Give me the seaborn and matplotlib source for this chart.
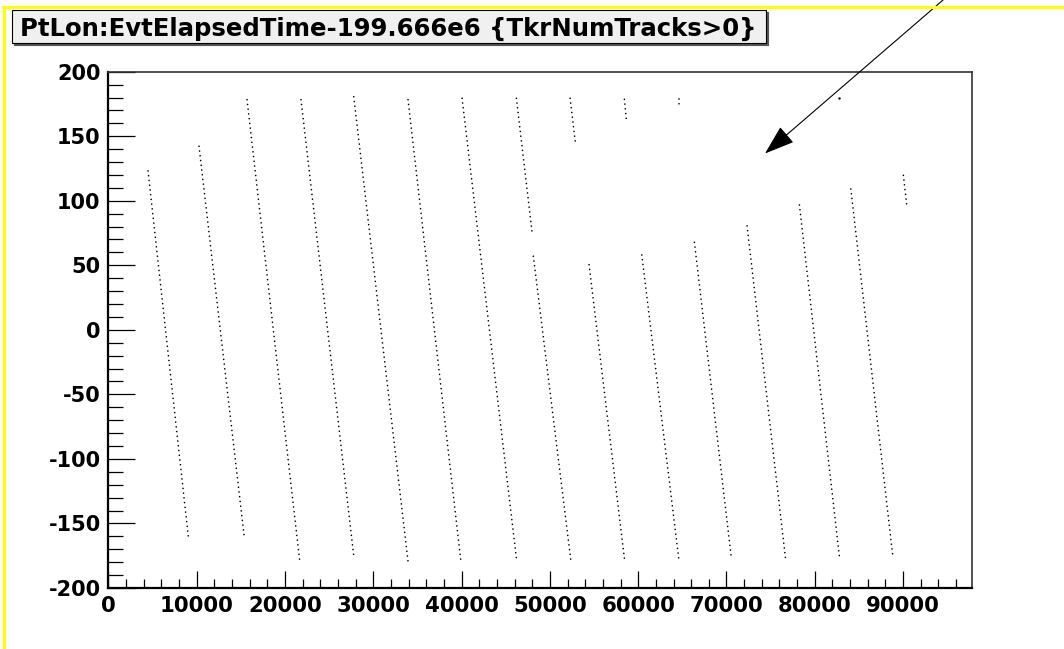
import matplotlib
matplotlib.use("Agg")
import matplotlib.pyplot as plt
from matplotlib.patches import Rectangle, FancyArrowPatch
from matplotlib.lines import Line2D
from matplotlib.ticker import MultipleLocator, FuncFormatter
import seaborn as sns
import pandas as pd

# ---- data: each track = (start, end) in (time, longitude) ----
track_ids   = ["T1", "T2", "T3", "T4", "T5", "T6", "T7", "T8", "T9", "S1", "T10", "S2",
               "T11", "S3", "T12", "T13", "T14", "T15", "T16"]
t_start     = [4500, 10270, 15710, 21820, 27790, 33940, 40060, 46210, 48130, 52290, 54440,
               58440, 60410, 64630, 66370, 72330, 78260, 84080, 90030]
t_end       = [9060, 15370, 21680, 27830, 33940, 39910, 46250, 47980, 52370, 52890, 58480,
               58660, 64630, 64630, 70560, 76720, 82830, 88830, 90420]
lon_start   = [123.1, 142.2, 178.3, 178.3, 180.6, 178.3, 179.4, 179.4, 57.0, 179.4, 50.5,
               178.6, 58.0, 178.6, 67.8, 80.5, 96.7, 109.1, 119.7]
lon_end     = [-160.2, -158.9, -179.3, -177.3, -179.3, -178.3, -179.3, 76.0, -178.3, 145.0,
               -179.3, 163.1, -179.3, 174.0, -177.3, -179.3, -178.3, -175.2, 96.2]
single_t    = [82790]
single_lon  = [179.4]

title = "PtLon:EvtElapsedTime-199.666e6 {TkrNumTracks>0}"
x_major = 10000
x_minor = 2000
y_major = 50
y_minor = 10

rows = []
for i, tid in enumerate(track_ids):
    rows.append({"track": tid, "time": t_start[i], "lon": lon_start[i]})
    rows.append({"track": tid, "time": t_end[i], "lon": lon_end[i]})
df = pd.DataFrame(rows)
df_single = pd.DataFrame({"time": single_t, "lon": single_lon})

sns.set_style("white")
plt.rcParams["font.family"] = ["DejaVu Sans"]
plt.rcParams["axes.unicode_minus"] = False
plt.rcParams["text.color"] = "black"
plt.rcParams["xtick.color"] = "black"
plt.rcParams["ytick.color"] = "black"
plt.rcParams["xtick.labelcolor"] = "black"
plt.rcParams["ytick.labelcolor"] = "black"

W, H = 1064, 649
fig = plt.figure(figsize=(W / 100, H / 100), dpi=100)
fig.patch.set_facecolor("white")

ax_l, ax_r, ax_t, ax_b = 108.3, 972.0, 71.7, 588.0
ax = fig.add_axes([ax_l / W, 1 - ax_b / H, (ax_r - ax_l) / W, (ax_b - ax_t) / H])

sns.lineplot(data=df, x="time", y="lon", units="track", estimator=None, sort=False,
             color="black", lw=1.2, linestyle=(0, (0.01, 2.85)), ax=ax, legend=False)
for ln in ax.lines:
    ln.set_dash_capstyle("round")
sns.scatterplot(data=df_single, x="time", y="lon", color="black", s=3,
                linewidth=0, ax=ax, legend=False)

ax.set_xlim(0, 97800)
ax.set_ylim(-200, 200)
ax.set_xlabel("")
ax.set_ylabel("")
ax.xaxis.set_major_locator(MultipleLocator(x_major))
ax.xaxis.set_minor_locator(MultipleLocator(x_minor))
ax.yaxis.set_major_locator(MultipleLocator(y_major))
ax.yaxis.set_minor_locator(MultipleLocator(y_minor))
ax.xaxis.set_major_formatter(FuncFormatter(lambda v, p: f"{int(round(v))}"))
ax.yaxis.set_major_formatter(FuncFormatter(lambda v, p: f"{int(round(v))}"))

ax.tick_params(axis="y", which="major", direction="in", length=19.4, width=0.9,
               color="black", labelcolor="black", pad=5.5, labelsize=15,
               left=True, right=False)
ax.tick_params(axis="y", which="minor", direction="in", length=10.5, width=0.9,
               color="black", left=True, right=False)
ax.tick_params(axis="x", which="major", direction="in", length=12.0, width=0.9,
               color="black", labelcolor="black", pad=6.0, labelsize=15.3,
               bottom=True, top=False)
ax.tick_params(axis="x", which="minor", direction="in", length=6.3, width=0.9,
               color="black", bottom=True, top=False)
for lab in ax.get_xticklabels() + ax.get_yticklabels():
    lab.set_fontweight("bold")
    lab.set_color("black")

for side in ["left", "bottom"]:
    ax.spines[side].set_linewidth(1.6)
    ax.spines[side].set_color("black")
for side in ["top", "right"]:
    ax.spines[side].set_linewidth(1.2)
    ax.spines[side].set_color("#333333")
    ax.spines[side].set_visible(True)

# ---- title box with shadow ----
def fx(px):
    return px / W

def fy(py):
    return 1 - py / H

bx0, bx1, by0, by1 = 12, 766, 9.5, 43
fig.patches.append(Rectangle((fx(bx0 + 2), fy(by1 + 2)), fx(bx1 - bx0), fy(by0) - fy(by1),
                             transform=fig.transFigure, facecolor="#555555",
                             edgecolor="#555555", lw=0.8, zorder=1))
fig.patches.append(Rectangle((fx(bx0), fy(by1)), fx(bx1 - bx0), fy(by0) - fy(by1),
                             transform=fig.transFigure, facecolor="#f0f0f0",
                             edgecolor="black", lw=0.8, zorder=2))
fig.text(fx(20), fy(35.5), title, fontsize=17.6, fontweight="bold", color="black",
         ha="left", va="baseline", zorder=3)

# ---- yellow border lines ----
fig.lines.append(Line2D([fx(4), fx(4)], [fy(6.5), fy(H + 5)], transform=fig.transFigure,
                        color="#ffff00", lw=2.2))
fig.lines.append(Line2D([fx(3), fx(W + 5)], [fy(6.5), fy(6.5)], transform=fig.transFigure,
                        color="#ffff00", lw=2.2))

# ---- annotation arrow ----
arrow = FancyArrowPatch((fx(950), fy(-6)), (fx(765), fy(153.5)), transform=fig.transFigure,
                        arrowstyle="-|>,head_length=1.9,head_width=0.65", mutation_scale=10,
                        color="black", lw=0.8, shrinkA=0, shrinkB=0)
fig.patches.append(arrow)

fig.savefig("out.png", dpi=100, facecolor="white")
